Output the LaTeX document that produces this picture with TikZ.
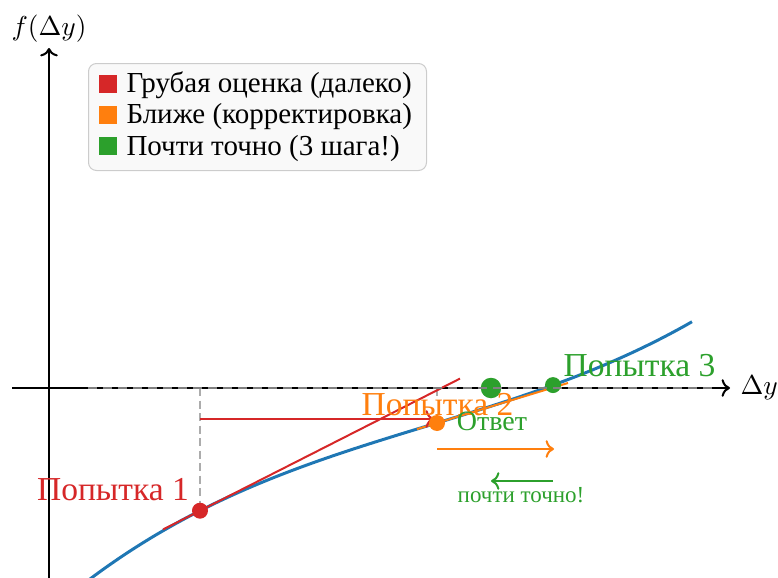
\documentclass[tikz,border=0pt]{standalone}
\usepackage{fontspec}
\setmainfont{Liberation Serif}
\usetikzlibrary{arrows.meta}
\definecolor{cblue}{HTML}{1F77B4}
\definecolor{corange}{HTML}{FF7F0E}
\definecolor{cgreen}{HTML}{2CA02C}
\definecolor{cred}{HTML}{D62728}
\begin{document}
\begin{tikzpicture}[x=40pt,y=40pt,
  axisline/.style={line width=0.8pt,->},
  guide/.style={color=gray!65,line width=0.6pt,dash pattern=on 3.2pt off 1.8pt},
  axisdash/.style={color=gray,line width=1.1pt,dash pattern=on 3.4pt off 2.6pt},
  dot/.style={circle,inner sep=0pt,minimum size=6.4pt},
  bigdot/.style={circle,inner sep=0pt,minimum size=8.2pt},
  lbl/.style={font=\fontsize{13.4}{16}\selectfont,anchor=base,inner sep=0pt},
  mathlbl/.style={font=\fontsize{11}{13}\selectfont,inner sep=0pt},
  legbox/.style={draw=gray!40,fill=gray!5,rounded corners=3.2pt,line width=0.4pt,inner sep=0pt,anchor=south west},
  sq/.style={inner sep=0pt,minimum size=7.2pt,anchor=south west},
  legtext/.style={font=\fontsize{11.6}{14}\selectfont,anchor=base west,inner sep=0pt},
  arr/.style={line width=0.8pt,->}
]
\useasboundingbox (-0.49,-1.89) rectangle (7.29,3.88);

% axes
\coordinate (o) at (0,0);
\coordinate (xs) at (-0.37,0);
\coordinate (xe) at (6.81,0);
\coordinate (ys) at (0,-1.95);
\coordinate (ye) at (0,3.40);
\draw[axisline] (xs) -- (xe);
\draw[axisline] (ys) -- (ye);
\node[mathlbl,anchor=base west] (xlab) at (6.91,-0.06) {$\Delta y$};
\node[mathlbl,anchor=base] (ylab) at (0,3.53) {$f(\Delta y)$};

% legend
\node[legbox,minimum width=135.2pt,minimum height=42.8pt] (legend) at (0.39,2.17) {};
\node[sq,fill=cred] (s1) at (0.49,2.95) {};
\node[sq,fill=corange] (s2) at (0.49,2.64) {};
\node[sq,fill=cgreen] (s3) at (0.49,2.33) {};
\node[legtext] (l1) at (0.77,2.95) {Грубая оценка (далеко)};
\node[legtext] (l2) at (0.77,2.64) {Ближе (корректировка)};
\node[legtext] (l3) at (0.77,2.33) {Почти точно (3 шага!)};

% curve
\draw[cblue,line width=1.2pt,domain=0.4:6.43,samples=90,smooth]
  plot (\x,{0.0129*(\x-3.8)*(\x-3.8)*(\x-3.8)+0.305*(\x-3.8)-0.374});

% points
\coordinate (P1) at (1.51,-1.227);
\coordinate (P2) at (3.88,-0.35);
\coordinate (P3) at (5.04,0.029);
\coordinate (A) at (4.42,0);

% guides
\coordinate (g1) at (1.51,0);
\draw[guide] (g1) -- (P1);
\coordinate (g2a) at (3.88,0);
\coordinate (g2b) at (3.88,-0.085);
\draw[guide] (g2a) -- (g2b);

% tangents
\coordinate (t1a) at (1.14,-1.415);
\coordinate (t1b) at (4.11,0.094);
\draw[cred,line width=0.8pt] (t1a) -- (t1b);
\coordinate (t2a) at (3.68,-0.411);
\coordinate (t2b) at (5.19,0.050);
\draw[corange,line width=0.8pt] (t2a) -- (t2b);

% step arrows
\coordinate (r1) at (1.51,-0.31);
\coordinate (r2) at (3.85,-0.31);
\draw[arr,cred] (r1) -- (r2);
\coordinate (o1) at (3.88,-0.61);
\coordinate (o2) at (5.05,-0.61);
\draw[arr,corange] (o1) -- (o2);
\coordinate (gr1) at (5.04,-0.93);
\coordinate (gr2) at (4.42,-0.93);
\draw[arr,cgreen] (gr1) -- (gr2);

% dots
\node[dot,fill=cred] (p1) at (P1) {};
\node[dot,fill=corange] (p2) at (P2) {};
\node[dot,fill=cgreen] (p3) at (P3) {};
\node[bigdot,fill=cgreen] (ans) at (A) {};

% dashed overlay on axis
\coordinate (d1) at (0.39,0);
\coordinate (d2) at (6.68,0);
\draw[axisdash] (d1) -- (d2);

% labels
\node[lbl,text=cred] (lab1) at (0.64,-1.127) {Попытка 1};
\node[lbl,text=corange] (lab2) at (3.885,-0.27) {Попытка 2};
\node[lbl,text=cgreen] (lab3) at (5.905,0.12) {Попытка 3};
\node[anchor=base,inner sep=0pt,text=cgreen,font=\fontsize{11.2}{13}\selectfont] (labA) at (4.43,-0.42) {Ответ};
\node[anchor=base,inner sep=0pt,text=cgreen,font=\fontsize{9.2}{11}\selectfont] (labN) at (4.72,-1.14) {почти точно!};
\end{tikzpicture}
\end{document}
